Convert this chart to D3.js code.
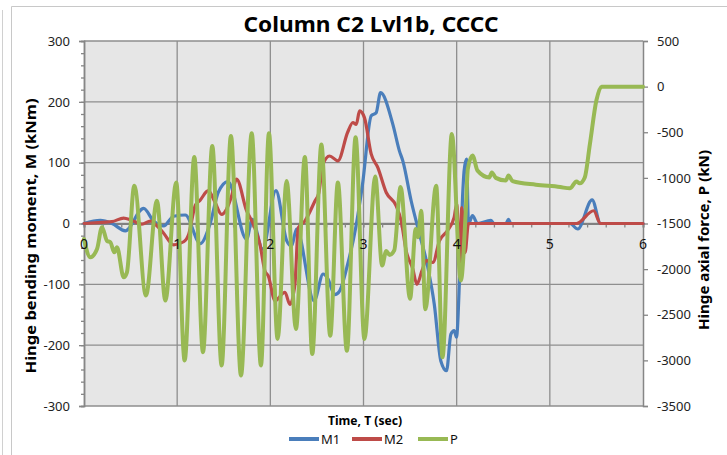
<!DOCTYPE html>
<html>
<head>
<meta charset="utf-8">
<script src="https://cdn.jsdelivr.net/npm/d3@7"></script>
<style>
body { margin: 0; background: #fff; }
text { font-family: "Noto Sans", sans-serif; }
</style>
</head>
<body>
<div id="chart"></div>
<script>
// values: [time (sec), value]
var momentTicks = [-300, -200, -100, 0, 100, 200, 300];
var forceTicks = [-3500, -3000, -2500, -2000, -1500, -1000, -500, 0, 500];
var timeTicks = [0, 1, 2, 3, 4, 5, 6];
var seriesNames = ["M1", "M2", "P"];

var m1 = [[0,0],[0.175,5],[0.3,0],[0.443,-12],[0.64,25],[0.747,4],[0.855,-4],[0.962,12],[1.087,14],
  [1.248,-33],[1.352,-1],[1.441,51],[1.545,69],[1.745,-26],[1.806,7],[1.917,-42],[2.06,54],[2.175,-28],
  [2.228,-37],[2.281,-9],[2.47,-127],[2.567,-83],[2.618,-91],[2.69,-117],[2.743,-111],[2.83,-67],
  [2.92,-4],[2.99,65],[3.083,177],[3.136,182],[3.183,215],[3.315,163],[3.386,119],[3.422,103],
  [3.512,37],[3.583,-7],[3.69,-72],[3.76,-133],[3.83,-226],[3.891,-242],[3.938,-182],[3.973,-176],
  [3.998,-187],[4.034,-78],[4.063,43],[4.08,87],[4.106,106],[4.127,-1],[4.17,13],[4.224,0],
  [4.367,5],[4.4,0],[4.53,0],[4.556,7],[4.58,0],[5.215,0],[5.3,-9],[5.454,39],[5.544,0],[6,0]];

var m2 = [[0,0],[0.193,2],[0.3,3],[0.425,9],[0.515,5],[0.622,-1],[0.712,4],[0.783,-4],[0.855,-16],
  [0.962,-35],[1.07,-30],[1.123,-18],[1.195,30],[1.245,38],[1.334,54],[1.406,35],[1.477,15],[1.531,24],
  [1.584,45],[1.638,73],[1.745,21],[1.817,-1],[1.888,-34],[1.942,-78],[1.978,-86],[2.05,-127],
  [2.157,-113],[2.21,-133],[2.264,-100],[2.3,-7],[2.37,4],[2.479,37],[2.52,50],[2.564,97],[2.636,111],
  [2.725,103],[2.83,150],[2.886,166],[2.922,163],[2.958,185],[3.01,174],[3.083,114],[3.154,92],
  [3.244,51],[3.351,29],[3.405,4],[3.458,-45],[3.53,-75],[3.573,-100],[3.627,-78],[3.673,-61],
  [3.745,-64],[3.816,-28],[3.9,-12],[3.973,10],[4.0,32],[4.034,-64],[4.055,26],[4.09,-48],[4.127,0],
  [5.286,0],[5.47,21],[5.544,0],[6,0]];

var p = [[0,-1670],[0.068,-1870],[0.14,-1780],[0.193,-1540],[0.247,-1690],[0.283,-1705],[0.325,-1815],
  [0.354,-1760],[0.426,-2090],[0.461,-2035],[0.54,-1085],[0.665,-2290],[0.783,-1250],[0.873,-2345],
  [0.99,-1050],[1.08,-3000],[1.184,-770],[1.277,-2910],[1.377,-650],[1.477,-3055],[1.577,-540],
  [1.685,-3165],[1.80,-510],[1.899,-3055],[1.985,-510],[2.078,-2765],[2.175,-1035],[2.275,-2655],
  [2.371,-770],[2.45,-2930],[2.548,-635],[2.643,-2730],[2.725,-1050],[2.822,-2895],[2.915,-555],
  [3.01,-2765],[3.126,-985],[3.2,-1960],[3.244,-1800],[3.28,-1845],[3.33,-1795],[3.398,-1100],
  [3.5,-2325],[3.56,-1560],[3.585,-1650],[3.62,-1360],[3.663,-2440],[3.78,-1085],[3.848,-2965],
  [3.948,-520],[4.045,-2125],[4.098,-1360],[4.12,-900],[4.17,-755],[4.224,-920],[4.35,-995],
  [4.377,-940],[4.42,-1000],[4.527,-1030],[4.556,-975],[4.6,-1035],[4.85,-1075],[5.11,-1100],
  [5.215,-1115],[5.286,-1040],[5.32,-1060],[5.375,-995],[5.43,-630],[5.5,-150],[5.555,0],[6,0]];

var colors = ["#4a7ebb", "#be4b48", "#98b954"];

var margin = {top: 41, right: 84, bottom: 49, left: 84},
    width = 727 - margin.left - margin.right,
    height = 455 - margin.top - margin.bottom;

var svgRoot = d3.select("#chart").append("svg")
    .attr("width", 727)
    .attr("height", 455);

// outer frame
svgRoot.append("line").attr("x1", 2.5).attr("x2", 2.5).attr("y1", 10).attr("y2", 455)
    .attr("stroke", "#d0d0d0").attr("stroke-width", 1);
svgRoot.append("path").attr("d", "M11.5,455V6.5H727")
    .attr("fill", "none").attr("stroke", "#c8c8c8").attr("stroke-width", 1);

var svg = svgRoot.append("g")
    .attr("transform", "translate(" + margin.left + "," + margin.top + ")");

var x = d3.scaleLinear().domain([0, 6]).range([0, width]);
var yM = d3.scaleLinear().domain([-300, 300]).range([height, 0]);
var yP = d3.scaleLinear().domain([-3500, 500]).range([height, 0]);

// plain numbers with a hyphen, no thousands comma
var plain = function(d) { return String(d); };

svg.append("rect").attr("width", width).attr("height", height).attr("fill", "#e6e6e6");

// gridlines
svg.append("g").selectAll("line").data(momentTicks).enter().append("line")
    .attr("x1", 0).attr("x2", width)
    .attr("y1", function(d) { return yM(d); }).attr("y2", function(d) { return yM(d); })
    .attr("stroke", "#8e8e8e").attr("stroke-width", 1.3);
svg.append("g").selectAll("line").data(timeTicks.slice(1, 6)).enter().append("line")
    .attr("y1", 0).attr("y2", height)
    .attr("x1", function(d) { return x(d); }).attr("x2", function(d) { return x(d); })
    .attr("stroke", "#8e8e8e").attr("stroke-width", 1.3);

// left axis with minor ticks
var leftMinor = svg.append("g")
    .call(d3.axisLeft(yM).tickValues(d3.range(-300, 301, 20)).tickSize(3).tickFormat(""));
var leftAxis = svg.append("g")
    .call(d3.axisLeft(yM).tickValues(momentTicks).tickSize(5).tickPadding(9).tickFormat(plain));
// right axis
var rightAxis = svg.append("g")
    .attr("transform", "translate(" + width + ",0)")
    .call(d3.axisRight(yP).tickValues(forceTicks).tickSize(5).tickPadding(9).tickFormat(plain));
// x axis crossing at zero
var xMinor = svg.append("g")
    .attr("transform", "translate(0," + yM(0) + ")")
    .call(d3.axisBottom(x).tickValues(d3.range(0, 6.01, 0.2)).tickSize(4).tickFormat(""));

[leftMinor, leftAxis, rightAxis, xMinor].forEach(function(a) {
  a.select(".domain").attr("stroke", "#868686").attr("stroke-width", 1.5);
  a.selectAll(".tick line").attr("stroke", "#868686").attr("stroke-width", 1.3);
  a.selectAll(".tick text").attr("font-size", "13px").attr("fill", "#222")
    .style("font-family", "Noto Sans");
});
xMinor.select(".domain").attr("stroke", "#808080").attr("stroke-width", 2);

// series
var line = d3.line()
    .curve(d3.curveMonotoneX)
    .x(function(d) { return x(d[0]); });

svg.append("path").datum(m1)
    .attr("d", line.y(function(d) { return yM(d[1]); }))
    .attr("fill", "none").attr("stroke", colors[0]).attr("stroke-width", 3.2)
    .attr("stroke-linejoin", "round").attr("stroke-linecap", "round");
svg.append("path").datum(m2)
    .attr("d", line.y(function(d) { return yM(d[1]); }))
    .attr("fill", "none").attr("stroke", colors[1]).attr("stroke-width", 3.2)
    .attr("stroke-linejoin", "round").attr("stroke-linecap", "round");
svg.append("path").datum(p)
    .attr("d", line.y(function(d) { return yP(d[1]); }))
    .attr("fill", "none").attr("stroke", colors[2]).attr("stroke-width", 4)
    .attr("stroke-linejoin", "round").attr("stroke-linecap", "round");

// time labels sit just under the zero line
svg.append("g").selectAll("text").data(timeTicks).enter().append("text")
    .attr("x", function(d) { return x(d); })
    .attr("y", yM(0) + 25)
    .attr("text-anchor", "middle")
    .attr("font-size", "14px")
    .attr("fill", "#111")
    .text(function(d) { return d; });

// titles
svgRoot.append("text")
    .attr("x", 371).attr("y", 32)
    .attr("text-anchor", "middle")
    .attr("font-size", "21px").attr("font-weight", "bold")
    .attr("textLength", 255).attr("lengthAdjust", "spacingAndGlyphs")
    .text("Column C2 Lvl1b, CCCC");

svgRoot.append("text")
    .attr("transform", "translate(36,236) rotate(-90)")
    .attr("text-anchor", "middle")
    .attr("font-size", "14px").attr("font-weight", "bold")
    .attr("textLength", 275).attr("lengthAdjust", "spacingAndGlyphs")
    .text("Hinge bending moment, M (kNm)");

svgRoot.append("text")
    .attr("transform", "translate(709,240) rotate(-90)")
    .attr("text-anchor", "middle")
    .attr("font-size", "14px").attr("font-weight", "bold")
    .attr("textLength", 180).attr("lengthAdjust", "spacingAndGlyphs")
    .text("Hinge axial force, P (kN)");

svgRoot.append("text")
    .attr("x", 365).attr("y", 425)
    .attr("text-anchor", "middle")
    .attr("font-size", "13px").attr("font-weight", "bold")
    .attr("textLength", 74).attr("lengthAdjust", "spacingAndGlyphs")
    .text("Time, T (sec)");

// legend
var legendX = [289, 352, 418];
var legend = svgRoot.append("g").selectAll("g").data(seriesNames).enter().append("g")
    .attr("transform", function(d, i) { return "translate(" + legendX[i] + ",439)"; });
legend.append("line").attr("x1", 0).attr("x2", 30)
    .attr("stroke", function(d, i) { return colors[i]; }).attr("stroke-width", 4);
legend.append("text").attr("x", 32).attr("y", 5)
    .attr("font-size", "13px").attr("fill", "#111")
    .text(function(d) { return d; });
</script>
</body>
</html>
